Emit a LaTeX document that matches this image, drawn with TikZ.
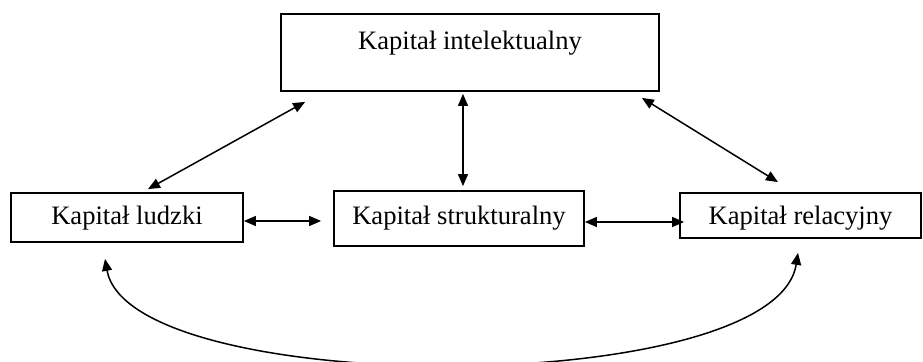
\documentclass[tikz,border=0pt]{standalone}
\usepackage{fontspec}
\setmainfont{Liberation Serif}
\usepackage{tikz}
\usetikzlibrary{arrows.meta,calc}

\tikzset{
	kbox/.style={draw, line width=0.9pt, inner sep=4pt, font=\fontsize{13.3}{15}\selectfont},
	link/.style={line width=0.75pt, {Triangle[length=6pt,width=5pt]}-{Triangle[length=6pt,width=5pt]}}
}

\begin{document}
\begin{tikzpicture}[x=0.5pt, y=-0.5pt]
		\useasboundingbox (0,0) rectangle (923,362);
		\node[kbox, minimum width=189pt, text height=14pt, text depth=16.5pt] (intel) at (470,52.5) {Kapitał intelektualny};
		\node[kbox, minimum width=116pt, text height=12pt, text depth=4.5pt] (ludzki) at (127,217.5) {Kapitał ludzki};
		\node[kbox, minimum width=125pt, text height=13pt, text depth=6.5pt] (strukt) at (459,218.5) {Kapitał strukturalny};
		\node[kbox, minimum width=120.5pt, text height=12pt, text depth=2.5pt] (relac) at (800.5,215.5) {Kapitał relacyjny};
		\draw[link] ($(ludzki.east)+(0,3.5)$) -- ($(strukt.west)+(-12,2.5)$);
		\draw[link] ($(strukt.east)+(0,3.5)$) -- ($(relac.west)+(5,6.5)$);
		\draw[link] ($(intel.south west)+(25,10)$) -- ($(ludzki.north)+(21,-3)$);
		\draw[link] ($(intel.south)+(-7,2)$) -- ($(strukt.north)+(4,-4)$);
		\draw[link] ($(intel.south east)+(-18,6)$) -- ($(relac.north)+(-22.5,-10)$);
		\draw[link] ($(ludzki.south)+(-22,16)$) .. controls (130,399) and (775,399) .. ($(relac.south)+(-2.5,14)$);
	\end{tikzpicture}
\end{document}
